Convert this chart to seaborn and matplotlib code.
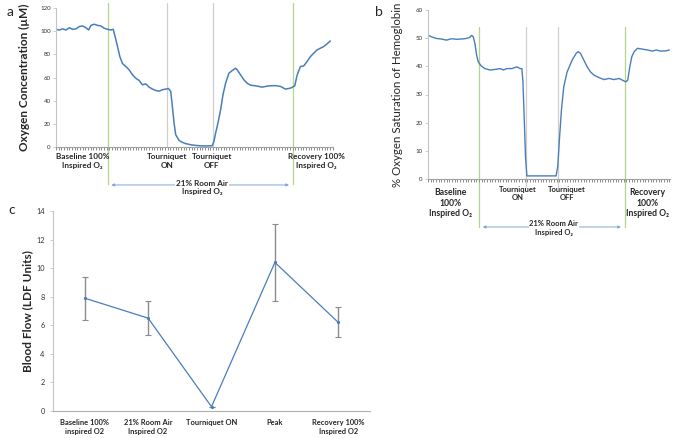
import matplotlib
matplotlib.use("Agg")
import matplotlib.pyplot as plt
import matplotlib.transforms as mtransforms
from matplotlib.ticker import MultipleLocator, NullLocator
import seaborn as sns
import pandas as pd

sns.set_theme(style="white")
plt.rcParams['font.family'] = ['Lato', 'DejaVu Sans']

# ---------------- Panel a data (time index, oxygen concentration µM)
a_time = [0, 1, 2, 3, 4, 5, 6, 7, 8, 9, 9.8, 10.5, 11.5, 12.5, 13.5, 14.5, 15.5, 16.5, 17.2,
          17.8, 18.5, 19.2, 20, 21, 22, 23, 24, 25, 26, 27, 28, 29, 30, 31, 32, 33, 33.8,
          34.5, 35, 35.5, 36, 37, 38, 39, 41, 43, 45, 47, 47.5, 48, 48.7, 49.5, 50.2, 51,
          52, 53, 54, 54.5, 55.5, 56.5, 57.5, 58.5, 60, 62, 64, 66, 67.5, 69, 70.5, 71.8,
          72.5, 73.5, 74.5, 75.5, 76.5, 77.5, 78.5, 79.5, 80.5, 81.5, 82.5]
a_oxygen = [101.6, 101, 102, 101, 103, 101.6, 102, 104, 104.5, 103, 101, 105, 106, 105, 104.5,
            102.5, 101.6, 101, 101.6, 95, 86.7, 78, 72, 69.5, 66.6, 62.3, 59.4, 57.4, 53.7,
            54.5, 51.7, 50, 48.8, 48.2, 49.4, 50, 50.5, 48, 35, 20.7, 10.6, 5.7, 4, 2.9, 1.7,
            1.1, 0.9, 1.1, 4.9, 12, 20.7, 32, 45, 55, 63.7, 66, 68, 66.6, 62.3, 58, 55,
            53.4, 52.8, 51.7, 52.8, 53, 52.3, 50, 50.8, 52.8, 62, 69.5, 70, 73.8, 78, 81,
            83.8, 85.3, 86.7, 89, 91.6]
a_events_green = [15.5, 71.2]
a_events_gray = [33.3, 47.1]
a_labels = ["Baseline 100%\nInspired O\u2082", "Tourniquet\nON", "Tourniquet\nOFF",
            "Recovery 100%\nInspired O\u2082"]
a_label_x = [7.9, 33.4, 46.9, 78.4]

# ---------------- Panel b data (time index, % O2 saturation of hemoglobin)
b_time = [0, 1, 2.5, 4, 5.5, 7, 8.5, 10, 11.5, 12.5, 13, 13.5, 14, 14.5, 15, 15.8, 17, 18.5,
          20, 21.5, 22.5, 23.5, 25, 26.5, 27.5, 28, 28.3, 28.7, 29.1, 29.5, 31, 35, 38.2,
          38.7, 39.2, 39.8, 40.5, 41.5, 43, 44.2, 44.8, 45.5, 46.5, 47.5, 48.5, 49.5, 51,
          52.5, 54, 55.5, 57, 58, 59, 59.6, 60.2, 60.8, 61.5, 62.5, 64, 65.5, 67, 68, 69.5,
          71, 72]
b_saturation = [51.1, 50.5, 49.9, 49.7, 49.3, 49.8, 49.6, 49.7, 49.9, 50.3, 51, 50.5, 48.1, 44,
                41.6, 40.2, 39.2, 38.7, 38.9, 39.2, 38.7, 39.2, 39.2, 39.8, 39.2, 39.2, 35, 22,
                7.8, 1.1, 1.1, 1.1, 1.1, 4.3, 13.8, 24.4, 32.7, 38, 42.2, 44.6, 45.2, 44.6,
                42.2, 39.8, 38, 36.9, 36, 35.3, 35.7, 35.3, 35.7, 35.1, 34.5, 35.1, 39.8, 43.4,
                45.2, 46.4, 46.1, 45.8, 45.4, 45.8, 45.4, 45.5, 45.8]
b_events_green = [15.2, 58.7]
b_events_gray = [29.3, 38.7]
b_labels = ["Baseline\n100%\nInspired O\u2082", "Tourniquet\nON", "Tourniquet\nOFF",
            "Recovery\n100%\nInspired O\u2082"]
b_label_x = [6.6, 26.9, 41.5, 65.4]

# ---------------- Panel c data
c_categories = ["Baseline 100%\ninspired O2", "21% Room Air\nInspired O2", "Tourniquet ON",
                "Peak", "Recovery 100%\nInspired O2"]
c_flow = [7.9, 6.5, 0.3, 10.4, 6.2]
c_err = [1.5, 1.2, 0.0, 2.7, 1.05]

room_air_text = "21% Room Air\nInspired O\u2082"

BLUE = "#4a7ebb"
GREEN = "#b5d58c"
GRAYV = "#cfcfcf"
ARROW = "#7fa8d8"
AXG = "#a0a0a0"
SPINE = "#c4c4c4"

fig = plt.figure(figsize=(6.75, 4.38), dpi=100)

def style_left(ax, pad, size):
    ax.spines["left"].set_visible(True)
    ax.spines["left"].set_color(SPINE)
    ax.spines["left"].set_linewidth(0.8)
    ax.tick_params(axis="y", left=True, direction="out", length=2.5, width=0.6,
                   color=SPINE, pad=pad, labelsize=size, labelcolor="#333333")

def style_timeaxis(ax):
    for s in ["top", "right"]:
        ax.spines[s].set_visible(False)
    ax.spines["bottom"].set_color(AXG)
    ax.spines["bottom"].set_linewidth(0.8)
    ax.xaxis.set_major_locator(NullLocator())
    ax.xaxis.set_minor_locator(MultipleLocator(0.8))
    ax.tick_params(axis="x", which="minor", bottom=True, direction="out",
                   length=2.4, width=0.7, color="#8a8a8a")
    style_left(ax, 1.2, 4.4)
    ax.set_xlabel("")
    ax.grid(False)

# ---------------- Panel a
axa = fig.add_axes([56/675, 1-147/438, 277/675, 139/438])
sns.lineplot(x=a_time, y=a_oxygen, ax=axa, color=BLUE, linewidth=1.1)
axa.set_xlim(0, 83.3)
axa.set_ylim(0, 120)
axa.set_yticks(range(0, 121, 20))
style_timeaxis(axa)
axa.set_ylabel("Oxygen Concentration (\u00b5M)", fontsize=8.5, fontweight="bold")
axa.yaxis.set_label_coords(-0.094, 0.5)
for xg in a_events_green:
    axa.axvline(xg, ymin=-0.266, ymax=1.036, color=GREEN, lw=0.9, clip_on=False, zorder=0)
for xg in a_events_gray:
    axa.axvline(xg, ymin=0, ymax=1.036, color=GRAYV, lw=0.9, clip_on=False, zorder=0)
ta = mtransforms.blended_transform_factory(axa.transData, axa.transAxes)
for lab, xx in zip(a_labels, a_label_x):
    axa.text(xx, -0.045, lab, transform=ta, ha="center", va="top", fontsize=5.9,
             fontweight="bold", linespacing=1.25)
axa.annotate("", xy=(a_events_green[0] + 0.3, -0.273), xytext=(a_events_green[1] - 0.3, -0.273),
             xycoords=ta, textcoords=ta,
             arrowprops=dict(arrowstyle="<|-|>", color=ARROW, lw=0.7, mutation_scale=4))
axa.text(43.9, -0.235, room_air_text, transform=ta, ha="center", va="top", fontsize=5.9,
         fontweight="bold", linespacing=1.25,
         bbox=dict(facecolor="white", edgecolor="none", pad=0.5))

# ---------------- Panel b
axb = fig.add_axes([428/675, 1-179/438, 242/675, 169/438])
sns.lineplot(x=b_time, y=b_saturation, ax=axb, color=BLUE, linewidth=1.0)
axb.set_xlim(0, 72.2)
axb.set_ylim(0, 60)
axb.set_yticks(range(0, 61, 10))
style_timeaxis(axb)
axb.set_ylabel("% Oxygen Saturation of Hemoglobin", fontsize=8.3)
axb.yaxis.set_label_coords(-0.104, 0.5)
for xg in b_events_green:
    axb.axvline(xg, ymin=-0.284, ymax=0.90, color=GREEN, lw=0.9, clip_on=False, zorder=0)
for xg in b_events_gray:
    axb.axvline(xg, ymin=-0.047, ymax=0.90, color=GRAYV, lw=0.9, clip_on=False, zorder=0)
tb = mtransforms.blended_transform_factory(axb.transData, axb.transAxes)
for i, (lab, xx) in enumerate(zip(b_labels, b_label_x)):
    top = -0.053 if i in (0, 3) else -0.041
    fs = 6.2 if i in (0, 3) else 5.5
    axb.text(xx, top, lab, transform=tb, ha="center", va="top", fontsize=fs,
             fontweight="bold", linespacing=1.25)
axb.annotate("", xy=(b_events_green[0] + 0.3, -0.284), xytext=(b_events_green[1] - 0.3, -0.284),
             xycoords=tb, textcoords=tb,
             arrowprops=dict(arrowstyle="<|-|>", color=ARROW, lw=0.7, mutation_scale=4))
axb.text(37.5, -0.245, room_air_text, transform=tb, ha="center", va="top", fontsize=5.5,
         fontweight="bold", linespacing=1.25,
         bbox=dict(facecolor="white", edgecolor="none", pad=0.5))

# ---------------- Panel c
axc = fig.add_axes([53/675, 1-411/438, 317/675, 200/438])
dfc = pd.DataFrame({"cat": c_categories, "flow": c_flow, "err": c_err})
pos = list(range(len(c_categories)))
axc.errorbar(pos, dfc["flow"], yerr=dfc["err"], fmt="none", ecolor="#8c8c8c",
             elinewidth=1.0, capsize=2, capthick=0.8, zorder=1)
sns.lineplot(x=pos, y=dfc["flow"], ax=axc, color=BLUE, linewidth=0.9, marker="o",
             markersize=2.3, markeredgewidth=0, zorder=2)
axc.set_xlim(-0.5, 4.5)
axc.set_ylim(0, 14)
axc.set_yticks(range(0, 15, 2))
axc.set_xticks(pos)
axc.set_xticklabels(c_categories, fontsize=5.4, fontweight="bold", linespacing=1.35)
for s in ["top", "right"]:
    axc.spines[s].set_visible(False)
axc.spines["bottom"].set_color("#b0b0b0")
axc.spines["bottom"].set_linewidth(0.8)
axc.tick_params(axis="x", length=0, pad=6)
style_left(axc, 3.5, 5.3)
axc.set_xlabel("")
axc.set_ylabel("Blood Flow (LDF Units)", fontsize=8.5, fontweight="bold")
axc.yaxis.set_label_coords(-0.063, 0.5)
axc.grid(False)

# ---------------- Panel letters
fig.text(10/675, 1-12/438, "a", fontsize=10, ha="center", va="center")
fig.text(379/675, 1-12/438, "b", fontsize=10, ha="center", va="center")
fig.text(12/675, 1-210/438, "c", fontsize=10, ha="center", va="center")

fig.savefig("out.png", dpi=100)
